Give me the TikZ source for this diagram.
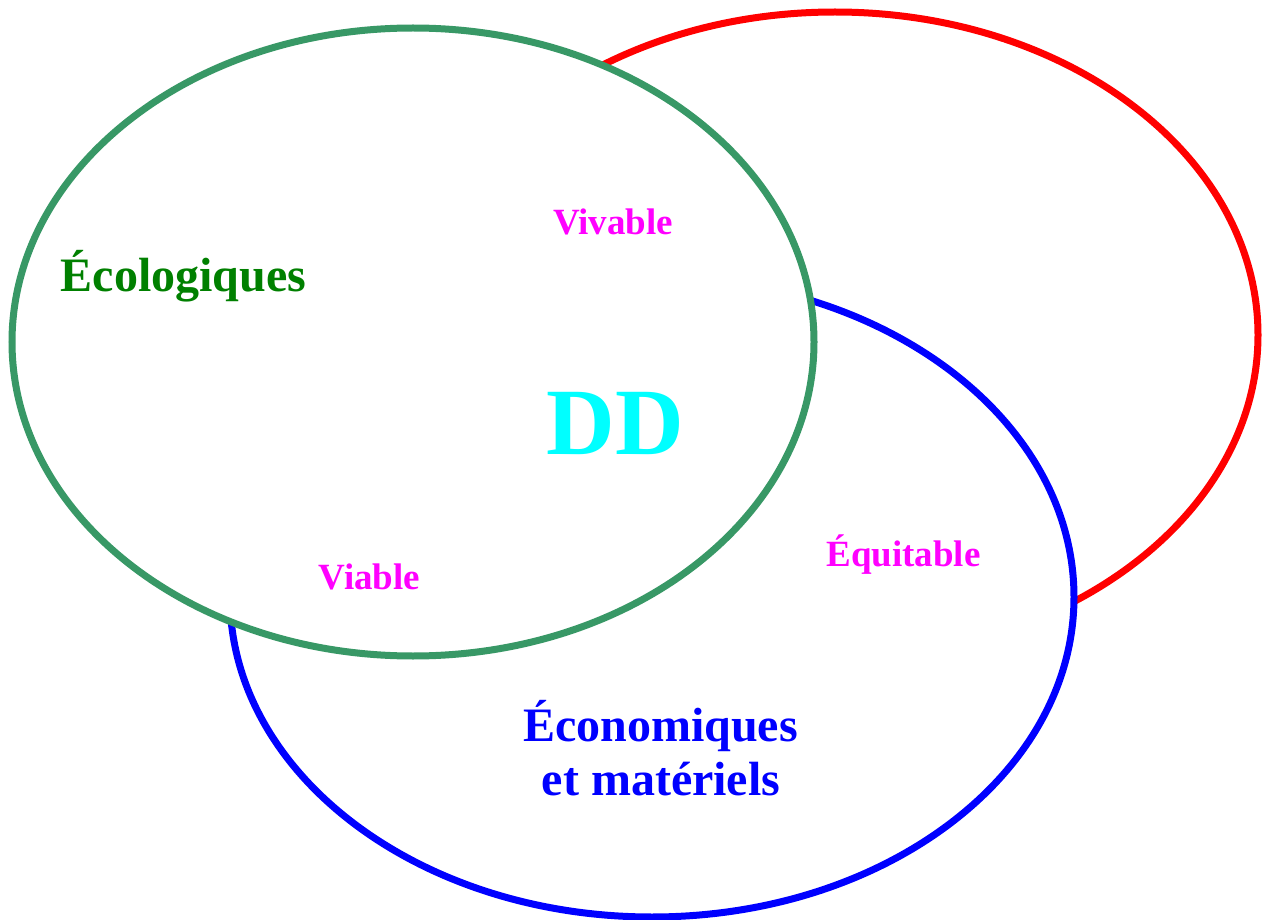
\documentclass[tikz,border=0pt]{standalone}
\usepackage{fontspec}
\setmainfont{Liberation Serif}
\definecolor{ecogreen}{RGB}{56,152,102}
\definecolor{txtgreen}{RGB}{0,128,0}
\definecolor{pmag}{RGB}{255,0,255}
\definecolor{pcyan}{RGB}{0,255,255}
\definecolor{pblue}{RGB}{0,0,255}
\definecolor{pred}{RGB}{255,0,0}
\begin{document}
\begin{tikzpicture}[x=1pt,y=-1pt,
  ring/.style={line width=7pt,fill=white},
  lbl/.style={font=\bfseries\fontsize{37}{40}\selectfont,text=pmag,anchor=base,inner sep=0pt},
  big/.style={font=\bfseries\fontsize{48}{53}\selectfont,anchor=base,inner sep=0pt,align=center}]
\useasboundingbox[fill=white] (0,0) rectangle (1262,920);
\draw[ring,draw=pred] (835,335) ellipse [x radius=423pt, y radius=323pt];
\draw[ring,draw=pblue] (652,597) ellipse [x radius=422pt, y radius=320pt];
\draw[ring,draw=ecogreen] (413,342) ellipse [x radius=401pt, y radius=314pt];
\node[big,text=txtgreen] (eco) at (183.5,291) {Écologiques};
\node[lbl] (viv) at (613,235) {Vivable};
\node[lbl] (via) at (369.5,589) {Viable};
\node[lbl] (equ) at (903.5,566) {Équitable};
\node[font=\bfseries\fontsize{95}{100}\selectfont,text=pcyan,anchor=base,inner sep=0pt] (dd) at (615.5,454) {DD};
\node[big,text=pblue] (econ1) at (660.5,741) {Économiques};
\node[big,text=pblue] (econ2) at (661,795) {et matériels};
\end{tikzpicture}
\end{document}
